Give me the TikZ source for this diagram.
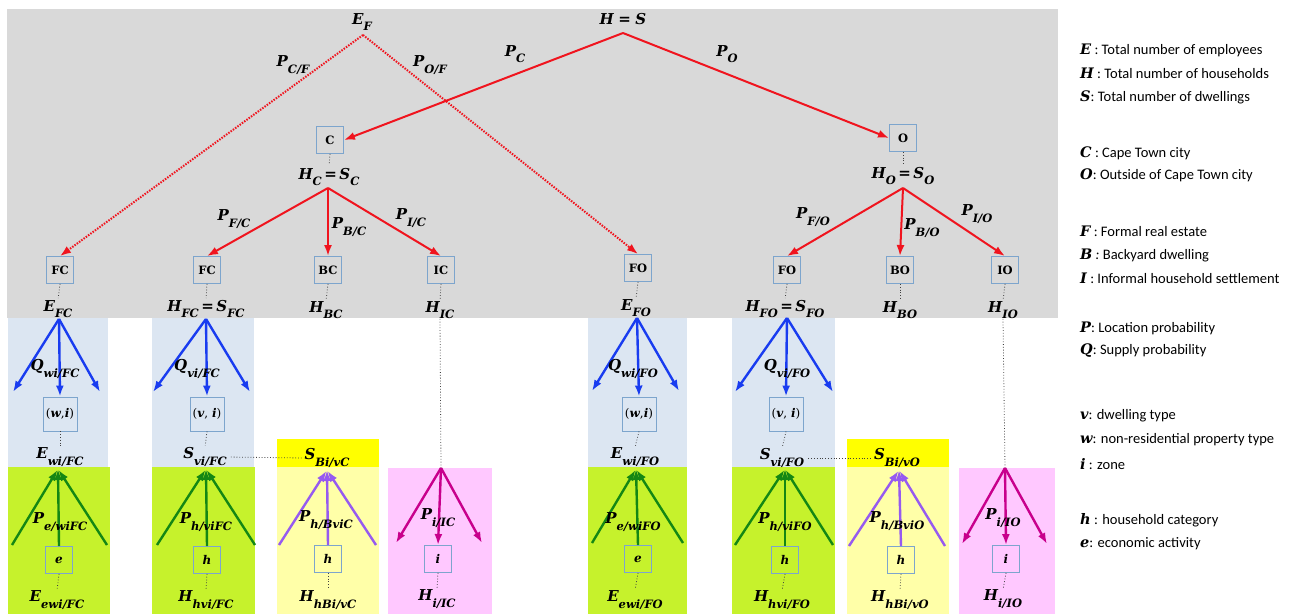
\documentclass[tikz,border=0pt]{standalone}
\usepackage{fontspec}
\newfontfamily\legfont{Carlito}
\newfontfamily\symfont{DejaVu Serif}
\usetikzlibrary{arrows.meta}
\definecolor{bggray}{RGB}{217,217,217}
\definecolor{lblue}{RGB}{220,230,242}
\definecolor{lgreen}{RGB}{198,242,44}
\definecolor{byellow}{RGB}{255,255,0}
\definecolor{lyellow}{RGB}{255,255,168}
\definecolor{lpink}{RGB}{255,200,255}
\definecolor{ared}{RGB}{240,20,30}
\definecolor{ablue}{RGB}{25,60,240}
\definecolor{agreen}{RGB}{20,135,20}
\definecolor{apurple}{RGB}{150,90,240}
\definecolor{amag}{RGB}{200,0,140}
\definecolor{boxc}{RGB}{125,165,205}
\newcommand\bi[1]{{\symfont\bfseries\itshape #1}}
\newcommand\sv[2]{\bi{#1}\raisebox{-0.42em}{\fontsize{11.5}{11.5}\selectfont\bi{#2}}}
\newcommand\eqs{\,{\symfont\bfseries =}\,}
\begin{document}
\begin{tikzpicture}[x=1pt,y=-1pt,
  box/.style={draw=boxc, line width=0.9pt, minimum width=27pt, minimum height=27pt, inner sep=0pt, font=\symfont\bfseries\fontsize{11.5}{11.5}\selectfont},
  sbox/.style={box, font=\symfont\fontsize{12}{12}\selectfont},
  bigbox/.style={sbox, minimum width=34pt, minimum height=34pt},
  lab/.style={inner sep=0pt, font=\fontsize{15}{15}\selectfont},
  dots/.style={dotted, line width=0.8pt, black!75},
  redarr/.style={ared, line width=2pt, -{Latex[length=11pt,width=8pt]}},
  reddot/.style={redarr, dash pattern=on 1.5pt off 1.3pt},
  bluearr/.style={ablue, line width=2.4pt, -{Latex[length=11pt,width=8pt]}},
  greenarr/.style={agreen, line width=2.4pt, -{Latex[length=11pt,width=8pt]}},
  purparr/.style={apurple, line width=2.4pt, -{Latex[length=11pt,width=8pt]}},
  magarr/.style={amag, line width=2.4pt, -{Latex[length=11pt,width=8pt]}},
  leg/.style={anchor=west, inner sep=0pt, font=\legfont\fontsize{14.5}{14.5}\selectfont}
]
\useasboundingbox (0,0) rectangle (1291,614);
% backgrounds
\fill[bggray] (7,9) rectangle (1058,318);
\fill[lblue] (8,318) rectangle (108,467);
\fill[lblue] (152,318) rectangle (254,467);
\fill[lblue] (588,318) rectangle (687,467);
\fill[lblue] (732,318) rectangle (835,467);
\fill[lgreen] (8,467) rectangle (110,614);
\fill[lgreen] (152,467) rectangle (255,614);
\fill[lgreen] (588,467) rectangle (687,614);
\fill[lgreen] (732,467) rectangle (835,614);
\fill[byellow] (277,439) rectangle (379,467);
\fill[byellow] (847,439) rectangle (949,467);
\fill[lyellow] (277,467) rectangle (379,614);
\fill[lyellow] (847,467) rectangle (949,614);
\fill[lpink] (388,468) rectangle (492,614);
\fill[lpink] (959,468) rectangle (1055,614);

% top level nodes
\node[lab] (HS) at (623,19) {\bi{H} \bi{=} \bi{S}};
\node[lab] (EF) at (362,22) {\sv{E}{F}};
\coordinate (HSa) at (623,33);
\coordinate (EFa) at (363,35);
\node[box] (C) at (330,140) {C};
\node[box] (O) at (903,138) {O};
\node[lab] (HC) at (329,177) {\sv{H}{C}\eqs\sv{S}{C}};
\node[lab] (HO) at (903,176) {\sv{H}{O}\eqs\sv{S}{O}};
\coordinate (HCa) at (328,188);
\coordinate (HOa) at (903,188);
\node[box] (FC1) at (60,270) {FC};
\node[box] (FC2) at (207,270) {FC};
\node[box] (BC) at (328,270) {BC};
\node[box] (IC) at (441,270) {IC};
\node[box] (FO1) at (638,268) {FO};
\node[box] (FO2) at (787,270) {FO};
\node[box] (BO) at (900,270) {BO};
\node[box] (IO) at (1005,270) {IO};
\node[lab] (EFC) at (58,309) {\sv{E}{FC}};
\node[lab] (HFC) at (206,309) {\sv{H}{FC}\eqs\sv{S}{FC}};
\node[lab] (HBC) at (326,310) {\sv{H}{BC}};
\node[lab] (HIC) at (440,310) {\sv{H}{IC}};
\node[lab] (EFO) at (636,308) {\sv{E}{FO}};
\node[lab] (HFO) at (785,309) {\sv{H}{FO}\eqs\sv{S}{FO}};
\node[lab] (HBO) at (900,310) {\sv{H}{BO}};
\node[lab] (HIO) at (1003,310) {\sv{H}{IO}};

% red connectors
\draw[redarr] (HSa) -- (C.east);
\draw[redarr] (HSa) -- (O.west);
\draw[reddot] (EFa) -- (FC1.north);
\draw[reddot] (EFa) -- (FO1.north);
\draw[redarr] (HCa) -- (FC2.north);
\draw[redarr] (HCa) -- (BC.north);
\draw[redarr] (HCa) -- (IC.north);
\draw[redarr] (HOa) -- (FO2.north);
\draw[redarr] (HOa) -- (BO.north);
\draw[redarr] (HOa) -- (IO.north);

% edge labels
\node[lab] at (515,54) {\sv{P}{C}};
\node[lab] at (727,54) {\sv{P}{O}};
\node[lab] at (293,65) {\sv{P}{C/F}};
\node[lab] at (430,65) {\sv{P}{O/F}};
\node[lab] at (234,219) {\sv{P}{F/C}};
\node[lab] at (349,227) {\sv{P}{B/C}};
\node[lab] at (411,218) {\sv{P}{I/C}};
\node[lab] at (813,217) {\sv{P}{F/O}};
\node[lab] at (922,228) {\sv{P}{B/O}};
\node[lab] at (977,214) {\sv{P}{I/O}};

% short dotted links
\draw[dots,shorten >=3pt] (C.south) -- (HC.north);
\draw[dots,shorten >=3pt] (O.south) -- (HO.north);
\foreach \b/\l in {FC1/EFC,FC2/HFC,BC/HBC,IC/HIC,FO1/EFO,FO2/HFO,BO/HBO,IO/HIO}
  \draw[dots,shorten >=2pt] (\b.south) -- (\l.north);

% ---- lower columns ----
% column 1
\coordinate (b1) at (59,319);
\coordinate (b1l) at (13,392);
\coordinate (b1r) at (100,392);
\node[bigbox] (wi1) at (60,414) {(\bi{w},\bi{i})};
\draw[bluearr] (b1) -- (b1l);
\draw[bluearr] (b1) -- (wi1.north);
\draw[bluearr] (b1) -- (b1r);
\node[lab] at (55,369) {\sv{Q}{wi/FC}};
\node[lab] (Ewi1) at (60,457) {\sv{E}{wi/FC}};
\draw[dots,shorten >=2pt] (wi1.south) -- (Ewi1.north);
\coordinate (g1) at (58,469);
\coordinate (g1l) at (12,545);
\coordinate (g1r) at (107,545);
\node[sbox] (e1) at (59,560) {\bi{e}};
\draw[greenarr,shorten >=1pt] (g1l) -- (g1);
\draw[greenarr] (e1.north) -- (g1);
\draw[greenarr,shorten >=1pt] (g1r) -- (g1);
\node[lab] at (60,522) {\sv{P}{e/wiFC}};
\node[lab] (Ee1) at (57,600) {\sv{E}{ewi/FC}};
\draw[dots,shorten >=2pt] (e1.south) -- (Ee1.north);

% column 2
\coordinate (b2) at (206,319);
\coordinate (b2l) at (153,392);
\coordinate (b2r) at (250,392);
\node[bigbox] (vi2) at (207,414) {(\bi{v}, \bi{i})};
\draw[bluearr] (b2) -- (b2l);
\draw[bluearr] (b2) -- (vi2.north);
\draw[bluearr] (b2) -- (b2r);
\node[lab] at (197,369) {\sv{Q}{vi/FC}};
\node[lab] (Svi2) at (205,457) {\sv{S}{vi/FC}};
\draw[dots,shorten >=2pt] (vi2.south) -- (Svi2.north);
\coordinate (g2) at (206,469);
\coordinate (g2l) at (157,545);
\coordinate (g2r) at (255,545);
\node[sbox] (h2) at (207,560) {\bi{h}};
\draw[greenarr,shorten >=1pt] (g2l) -- (g2);
\draw[greenarr] (h2.north) -- (g2);
\draw[greenarr,shorten >=1pt] (g2r) -- (g2);
\node[lab] at (206,522) {\sv{P}{h/viFC}};
\node[lab] (Hh2) at (206,600) {\sv{H}{hvi/FC}};
\draw[dots,shorten >=2pt] (h2.south) -- (Hh2.north);

% column 3
\node[lab] (SB3) at (327,458) {\sv{S}{Bi/vC}};
\draw[dots,shorten <=4pt,shorten >=2pt] (Svi2.east) -- (SB3.west);
\coordinate (p3) at (327,470);
\coordinate (p3l) at (279,545);
\coordinate (p3r) at (376,545);
\node[sbox] (h3) at (328,559) {\bi{h}};
\draw[purparr,shorten >=1pt] (p3l) -- (p3);
\draw[purparr] (h3.north) -- (p3);
\draw[purparr,shorten >=1pt] (p3r) -- (p3);
\node[lab] at (326,520) {\sv{P}{h/BviC}};
\node[lab] (Hh3) at (328,600) {\sv{H}{hBi/vC}};
\draw[dots,shorten >=2pt] (h3.south) -- (Hh3.north);

% column 4
\coordinate (m4) at (441,468);
\coordinate (m4l) at (396,543);
\coordinate (m4r) at (482,543);
\draw[dots] (HIC.south) -- (m4);
\node[sbox] (i4) at (438,559) {\bi{i}};
\draw[magarr] (m4) -- (m4l);
\draw[magarr] (m4) -- (i4.north);
\draw[magarr] (m4) -- (m4r);
\node[lab] at (438,518) {\sv{P}{i/IC}};
\node[lab] (Hi4) at (437,599) {\sv{H}{i/IC}};
\draw[dots,shorten >=2pt] (i4.south) -- (Hi4.north);

% column 5
\coordinate (b5) at (637,318);
\coordinate (b5l) at (592,391);
\coordinate (b5r) at (679,391);
\node[bigbox] (wi5) at (639,414) {(\bi{w},\bi{i})};
\draw[bluearr] (b5) -- (b5l);
\draw[bluearr] (b5) -- (wi5.north);
\draw[bluearr] (b5) -- (b5r);
\node[lab] at (633,369) {\sv{Q}{wi/FO}};
\node[lab] (Ewi5) at (635,457) {\sv{E}{wi/FO}};
\draw[dots,shorten >=2pt] (wi5.south) -- (Ewi5.north);
\coordinate (g5) at (636,469);
\coordinate (g5l) at (592,543);
\coordinate (g5r) at (683,543);
\node[sbox] (e5) at (638,559) {\bi{e}};
\draw[greenarr,shorten >=1pt] (g5l) -- (g5);
\draw[greenarr] (e5.north) -- (g5);
\draw[greenarr,shorten >=1pt] (g5r) -- (g5);
\node[lab] at (633,522) {\sv{P}{e/wiFO}};
\node[lab] (Ee5) at (635,600) {\sv{E}{ewi/FO}};
\draw[dots,shorten >=2pt] (e5.south) -- (Ee5.north);

% column 6
\coordinate (b6) at (787,318);
\coordinate (b6l) at (735,392);
\coordinate (b6r) at (833,392);
\node[bigbox] (vi6) at (786,414) {(\bi{v}, \bi{i})};
\draw[bluearr] (b6) -- (b6l);
\draw[bluearr] (b6) -- (vi6.north);
\draw[bluearr] (b6) -- (b6r);
\node[lab] at (787,369) {\sv{Q}{vi/FO}};
\node[lab] (Svi6) at (782,458) {\sv{S}{vi/FO}};
\draw[dots,shorten >=2pt] (vi6.south) -- (Svi6.north);
\coordinate (g6) at (785,469);
\coordinate (g6l) at (735,545);
\coordinate (g6r) at (833,545);
\node[sbox] (h6) at (785,560) {\bi{h}};
\draw[greenarr,shorten >=1pt] (g6l) -- (g6);
\draw[greenarr] (h6.north) -- (g6);
\draw[greenarr,shorten >=1pt] (g6r) -- (g6);
\node[lab] at (785,522) {\sv{P}{h/viFO}};
\node[lab] (Hh6) at (782,600) {\sv{H}{hvi/FO}};
\draw[dots,shorten >=2pt] (h6.south) -- (Hh6.north);

% column 7
\node[lab] (SB7) at (897,458) {\sv{S}{Bi/vO}};
\draw[dots,shorten <=4pt,shorten >=2pt] (Svi6.east) -- (SB7.west);
\coordinate (p7) at (899,470);
\coordinate (p7l) at (849,546);
\coordinate (p7r) at (945,546);
\node[sbox] (h7) at (901,560) {\bi{h}};
\draw[purparr,shorten >=1pt] (p7l) -- (p7);
\draw[purparr] (h7.north) -- (p7);
\draw[purparr,shorten >=1pt] (p7r) -- (p7);
\node[lab] at (897,521) {\sv{P}{h/BviO}};
\node[lab] (Hh7) at (900,600) {\sv{H}{hBi/vO}};
\draw[dots,shorten >=2pt] (h7.south) -- (Hh7.north);

% column 8
\coordinate (m8) at (1005,468);
\coordinate (m8l) at (962,544);
\coordinate (m8r) at (1047,544);
\draw[dots] (HIO.south) -- (m8);
\node[sbox] (i8) at (1006,559) {\bi{i}};
\draw[magarr] (m8) -- (m8l);
\draw[magarr] (m8) -- (i8.north);
\draw[magarr] (m8) -- (m8r);
\node[lab] at (1003,518) {\sv{P}{i/IO}};
\node[lab] (Hi8) at (1003,599) {\sv{H}{i/IO}};
\draw[dots,shorten >=2pt] (i8.south) -- (Hi8.north);

% legend
\node[leg] at (1080,50) {\bi{E} : Total number of employees};
\node[leg] at (1080,73) {\bi{H} : Total number of households};
\node[leg] at (1080,97) {\bi{S}: Total number of dwellings};
\node[leg] at (1080,153) {\bi{C} : Cape Town city};
\node[leg] at (1080,175) {\bi{O}: Outside of Cape Town city};
\node[leg] at (1080,231) {\bi{F} : Formal real estate};
\node[leg] at (1080,255) {\bi{B} \textit{:} Backyard dwelling};
\node[leg] at (1080,278) {\bi{I} : Informal household settlement};
\node[leg] at (1080,328) {\bi{P}: Location probability};
\node[leg] at (1080,351) {\bi{Q}: Supply probability};
\node[leg] at (1080,416) {\bi{v}: dwelling type};
\node[leg] at (1080,440) {\bi{w}: non-residential property type};
\node[leg] at (1080,464) {\bi{i} : zone};
\node[leg] at (1080,520) {\bi{h} : household category};
\node[leg] at (1080,544) {\bi{e}: economic activity};
\end{tikzpicture}
\end{document}
